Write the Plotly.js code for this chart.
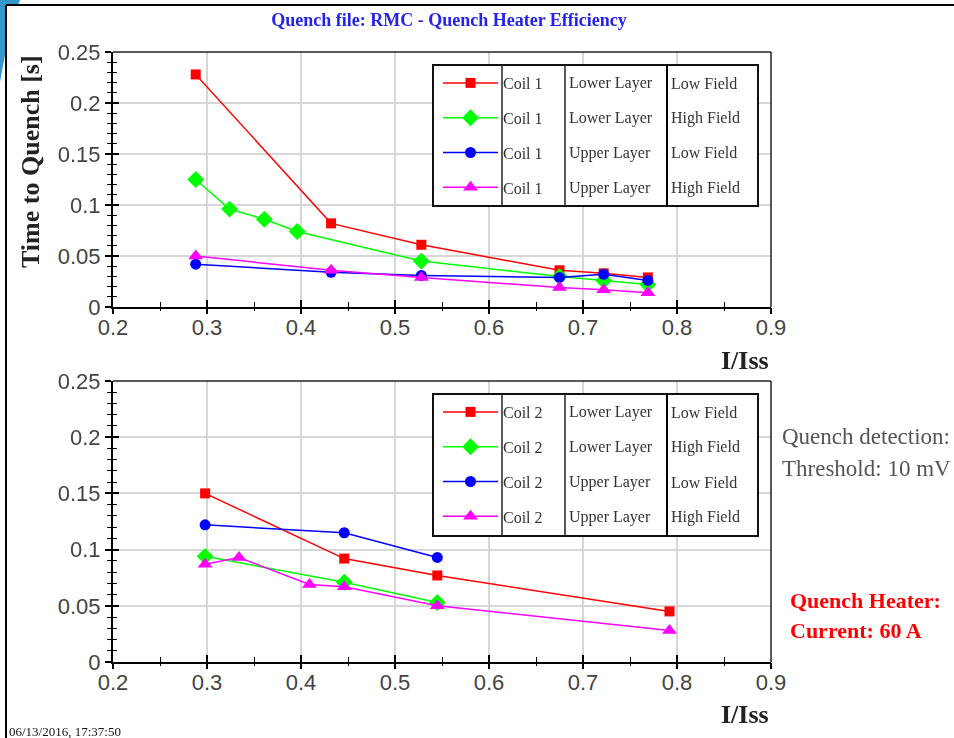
<!DOCTYPE html>
<html>
<head>
<meta charset="utf-8">
<script src="https://cdn.plot.ly/plotly-3.0.1.min.js"></script>
<style>
  html, body { margin: 0; padding: 0; background: #ffffff; }
  #chart { width: 954px; height: 738px; }
</style>
</head>
<body>
<div id="chart"></div>
<script>
// ---- Coil 1 measurements (time to quench [s] vs I/Iss) ----
const c1LowerLowX   = [0.288, 0.432, 0.528, 0.675, 0.722, 0.769];
const c1LowerLowY   = [0.228, 0.082, 0.061, 0.036, 0.033, 0.029];
const c1LowerHighX  = [0.288, 0.324, 0.361, 0.396, 0.528, 0.675, 0.722, 0.769];
const c1LowerHighY  = [0.125, 0.096, 0.086, 0.074, 0.045, 0.030, 0.026, 0.022];
const c1UpperLowX   = [0.288, 0.432, 0.528, 0.675, 0.722, 0.769];
const c1UpperLowY   = [0.042, 0.034, 0.031, 0.029, 0.032, 0.026];
const c1UpperHighX  = [0.288, 0.432, 0.528, 0.675, 0.722, 0.769];
const c1UpperHighY  = [0.050, 0.036, 0.029, 0.019, 0.017, 0.014];

// ---- Coil 2 measurements ----
const c2LowerLowX   = [0.298, 0.446, 0.545, 0.792];
const c2LowerLowY   = [0.150, 0.092, 0.077, 0.045];
const c2LowerHighX  = [0.298, 0.446, 0.545];
const c2LowerHighY  = [0.094, 0.071, 0.053];
const c2UpperLowX   = [0.298, 0.446, 0.545];
const c2UpperLowY   = [0.122, 0.115, 0.093];
const c2UpperHighX  = [0.298, 0.334, 0.409, 0.446, 0.545, 0.792];
const c2UpperHighY  = [0.087, 0.093, 0.069, 0.067, 0.050, 0.028];

// ---- Labels ----
const coilNames   = ['Coil 1', 'Coil 2'];
const layerLabels = ['Lower Layer', 'Lower Layer', 'Upper Layer', 'Upper Layer'];
const fieldLabels = ['Low Field', 'High Field', 'Low Field', 'High Field'];
const xTicks = [0.2, 0.3, 0.4, 0.5, 0.6, 0.7, 0.8, 0.9];
const yTicks = [0, 0.05, 0.1, 0.15, 0.2, 0.25];

// ---- Page geometry helpers (pixels -> paper fractions) ----
const W = 954, H = 738;
const px = x => x / W;
const py = y => 1 - y / H;

const seriesStyle = [
  { color: '#ff0000', symbol: 'square',       size: 10 },
  { color: '#00ff00', symbol: 'diamond',      size: 13 },
  { color: '#0000ff', symbol: 'circle',       size: 11 },
  { color: '#ff00ff', symbol: 'triangle-up',  size: 13 }
];

const coil1 = [[c1LowerLowX, c1LowerLowY], [c1LowerHighX, c1LowerHighY],
               [c1UpperLowX, c1UpperLowY], [c1UpperHighX, c1UpperHighY]];
const coil2 = [[c2LowerLowX, c2LowerLowY], [c2LowerHighX, c2LowerHighY],
               [c2UpperLowX, c2UpperLowY], [c2UpperHighX, c2UpperHighY]];

const traces = [];
function addCoil(series, name, xa, ya, legendId, gp) {
  series.forEach((s, i) => {
    const st = seriesStyle[i];
    traces.push({
      type: 'scatter', mode: 'lines+markers',
      x: s[0], y: s[1], xaxis: xa, yaxis: ya,
      name: name, legend: legendId, legendgroup: gp + i,
      line: { color: st.color, width: 1.5 },
      marker: { color: st.color, symbol: st.symbol, size: st.size },
      cliponaxis: false, hoverinfo: 'x+y'
    });
  });
}
addCoil(coil1, coilNames[0], 'x', 'y', 'legend', 'a');
addCoil(coil2, coilNames[1], 'x2', 'y2', 'legend2', 'b');

// invisible carriers so the tick-overlay axes get drawn
traces.push({ type: 'scatter', mode: 'markers', x: c1LowerLowX, y: c1LowerLowY,
  xaxis: 'x3', yaxis: 'y3', opacity: 0, showlegend: false, hoverinfo: 'skip' });
traces.push({ type: 'scatter', mode: 'markers', x: c2LowerLowX, y: c2LowerLowY,
  xaxis: 'x4', yaxis: 'y4', opacity: 0, showlegend: false, hoverinfo: 'skip' });

const tickFont = { family: 'Liberation Sans, Arial, sans-serif', size: 22, color: '#444' };
const xDom = [px(113), px(771)];
const topDom = [py(307), py(52)];
const botDom = [py(662), py(381)];

// x axes: inside ticks on the labelled axis, outside ticks on the overlay -> crossing ticks
function mainX(anchor) {
  return {
    domain: xDom, anchor: anchor, range: [0.2, 0.9], fixedrange: true,
    tickmode: 'array', tickvals: xTicks, ticktext: xTicks.map(String),
    ticks: 'inside', ticklen: 7, tickwidth: 1.5, tickcolor: '#000',
    minor: { dtick: 0.05, tick0: 0.2, ticks: 'inside', ticklen: 5, tickwidth: 1.2, tickcolor: '#000', showgrid: false },
    showline: true, linewidth: 2, linecolor: '#000',
    showgrid: true, gridcolor: '#d6d6d6', gridwidth: 1.5,
    zeroline: false, tickfont: tickFont, ticklabelstandoff: 0
  };
}
function mainY(anchor, dom) {
  return {
    domain: dom, anchor: anchor, range: [0, 0.25], fixedrange: true,
    tickmode: 'array', tickvals: yTicks, ticktext: yTicks.map(String),
    ticks: 'outside', ticklen: 6, tickwidth: 1.5, tickcolor: '#000',
    minor: { dtick: 0.01, tick0: 0, ticks: 'outside', ticklen: 4, tickwidth: 1.2, tickcolor: '#000', showgrid: false },
    showline: true, linewidth: 2, linecolor: '#000',
    showgrid: true, gridcolor: '#d6d6d6', gridwidth: 1.5,
    zeroline: false, tickfont: tickFont, ticklabelstandoff: 0
  };
}
function overX(over, anchor) {
  return {
    overlaying: over, anchor: anchor, domain: xDom, range: [0.2, 0.9], fixedrange: true,
    tickmode: 'array', tickvals: xTicks, ticks: 'outside', ticklen: 6, tickwidth: 1.5, tickcolor: '#000',
    minor: { dtick: 0.05, tick0: 0.2, ticks: 'outside', ticklen: 3, tickwidth: 1.2, tickcolor: '#000', showgrid: false },
    showticklabels: false, showgrid: false, showline: false, zeroline: false
  };
}
function overY(over, anchor, dom) {
  return {
    overlaying: over, anchor: anchor, domain: dom, range: [0, 0.25], fixedrange: true,
    tickmode: 'array', tickvals: yTicks, ticks: 'inside', ticklen: 6, tickwidth: 1.5, tickcolor: '#000',
    minor: { dtick: 0.01, tick0: 0, ticks: 'inside', ticklen: 4, tickwidth: 1.2, tickcolor: '#000', showgrid: false },
    showticklabels: false, showgrid: false, showline: false, zeroline: false
  };
}

// ---- decorative page frame + legend tables ----
const shapes = [
  { type: 'path', xref: 'paper', yref: 'paper', layer: 'below',
    path: `M ${px(0)},${py(0)} L ${px(20)},${py(0)} Q ${px(9)},${py(30)} ${px(0)},${py(82)} Z`,
    fillcolor: '#3598cc', line: { width: 0 } },
  { type: 'rect', xref: 'paper', yref: 'paper', layer: 'below',
    x0: px(6), x1: px(954), y0: py(738), y1: py(5), fillcolor: '#ffffff', line: { width: 0 } },
  { type: 'line', xref: 'paper', yref: 'paper', layer: 'below',
    x0: px(6), x1: px(954), y0: py(5), y1: py(5), line: { color: '#000', width: 2 } },
  { type: 'line', xref: 'paper', yref: 'paper', layer: 'below',
    x0: px(6), x1: px(6), y0: py(5), y1: py(738), line: { color: '#000', width: 2 } },
  // top/right borders of both plot areas
  { type: 'line', xref: 'x domain', yref: 'y domain', x0: 0, x1: 1, y0: 1, y1: 1, line: { color: '#222', width: 1.5 } },
  { type: 'line', xref: 'x domain', yref: 'y domain', x0: 1, x1: 1, y0: 0, y1: 1, line: { color: '#222', width: 1.5 } },
  { type: 'line', xref: 'x2 domain', yref: 'y2 domain', x0: 0, x1: 1, y0: 1, y1: 1, line: { color: '#222', width: 1.5 } },
  { type: 'line', xref: 'x2 domain', yref: 'y2 domain', x0: 1, x1: 1, y0: 0, y1: 1, line: { color: '#222', width: 1.5 } }
];

function legendTable(top, bottom) {
  shapes.push({ type: 'rect', xref: 'paper', yref: 'paper', layer: 'above',
    x0: px(433), x1: px(758), y0: py(bottom), y1: py(top),
    fillcolor: '#ffffff', line: { color: '#111', width: 2 } });
  [502, 565, 667].forEach((cx, i) => shapes.push({
    type: 'line', xref: 'paper', yref: 'paper', layer: 'above',
    x0: px(cx), x1: px(cx), y0: py(bottom), y1: py(top),
    line: { color: i === 2 ? '#000' : '#222', width: i === 2 ? 2 : 1.5 } }));
}
legendTable(65, 206);
legendTable(394, 536);

const serif = 'Liberation Serif, Times New Roman, serif';
const annotations = [];
function tableText(rowYs) {
  rowYs.forEach((ry, i) => {
    annotations.push({ xref: 'paper', yref: 'paper', x: px(567), y: py(ry), xanchor: 'left', yanchor: 'middle',
      text: layerLabels[i], showarrow: false, font: { family: serif, size: 16, color: '#333' } });
    annotations.push({ xref: 'paper', yref: 'paper', x: px(669), y: py(ry), xanchor: 'left', yanchor: 'middle',
      text: fieldLabels[i], showarrow: false, font: { family: serif, size: 16, color: '#333' } });
  });
}
tableText([83, 118, 153, 188]);
tableText([412, 447, 482, 517]);

annotations.push(
  { xref: 'paper', yref: 'paper', x: px(31), y: py(162), textangle: -90, xanchor: 'center', yanchor: 'middle',
    text: 'Time to Quench [s]', showarrow: false, font: { family: serif, size: 26, color: '#222', weight: 'bold' } },
  { xref: 'paper', yref: 'paper', x: px(745), y: py(360), xanchor: 'center', yanchor: 'middle',
    text: 'I/Iss', showarrow: false, font: { family: serif, size: 26, color: '#222', weight: 'bold' } },
  { xref: 'paper', yref: 'paper', x: px(745), y: py(714), xanchor: 'center', yanchor: 'middle',
    text: 'I/Iss', showarrow: false, font: { family: serif, size: 26, color: '#222', weight: 'bold' } },
  { xref: 'paper', yref: 'paper', x: px(780), y: py(437), xanchor: 'left', yanchor: 'middle',
    text: 'Quench detection:', showarrow: false, font: { family: serif, size: 23, color: '#555' } },
  { xref: 'paper', yref: 'paper', x: px(780), y: py(469), xanchor: 'left', yanchor: 'middle',
    text: 'Threshold: 10 mV', showarrow: false, font: { family: serif, size: 23, color: '#555' } },
  { xref: 'paper', yref: 'paper', x: px(788), y: py(600), xanchor: 'left', yanchor: 'middle',
    text: 'Quench Heater:', showarrow: false, font: { family: serif, size: 22, color: '#ff0000', weight: 'bold' } },
  { xref: 'paper', yref: 'paper', x: px(788), y: py(630), xanchor: 'left', yanchor: 'middle',
    text: 'Current: 60 A', showarrow: false, font: { family: serif, size: 22, color: '#ff0000', weight: 'bold' } },
  { xref: 'paper', yref: 'paper', x: px(7), y: py(731), xanchor: 'left', yanchor: 'middle',
    text: '06/13/2016, 17:37:50', showarrow: false, font: { family: serif, size: 13, color: '#111' } }
);

const legendCommon = {
  xanchor: 'left', yanchor: 'top', bgcolor: 'rgba(0,0,0,0)', borderwidth: 0,
  traceorder: 'grouped', tracegroupgap: 11, itemwidth: 55, itemclick: false, itemdoubleclick: false,
  font: { family: serif, size: 16, color: '#333' }
};

const layout = {
  width: W, height: H,
  margin: { l: 0, r: 0, t: 0, b: 0 },
  paper_bgcolor: '#ffffff', plot_bgcolor: '#ffffff',
  title: { text: 'Quench file: RMC - Quench Heater Efficiency', x: px(449), y: py(20),
    xref: 'paper', yref: 'paper', xanchor: 'center', yanchor: 'middle',
    font: { family: serif, size: 18, color: '#2323ee', weight: 'bold' } },
  xaxis: mainX('y'), yaxis: mainY('x', topDom),
  xaxis2: mainX('y2'), yaxis2: mainY('x2', botDom),
  xaxis3: overX('x', 'y'), yaxis3: overY('y', 'x', topDom),
  xaxis4: overX('x2', 'y2'), yaxis4: overY('y2', 'x2', botDom),
  legend: Object.assign({ x: px(438), y: py(66) }, legendCommon),
  legend2: Object.assign({ x: px(438), y: py(395) }, legendCommon),
  shapes: shapes, annotations: annotations,
  showlegend: true
};

Plotly.newPlot('chart', traces, layout, { displayModeBar: false, staticPlot: false });
</script>
</body>
</html>
